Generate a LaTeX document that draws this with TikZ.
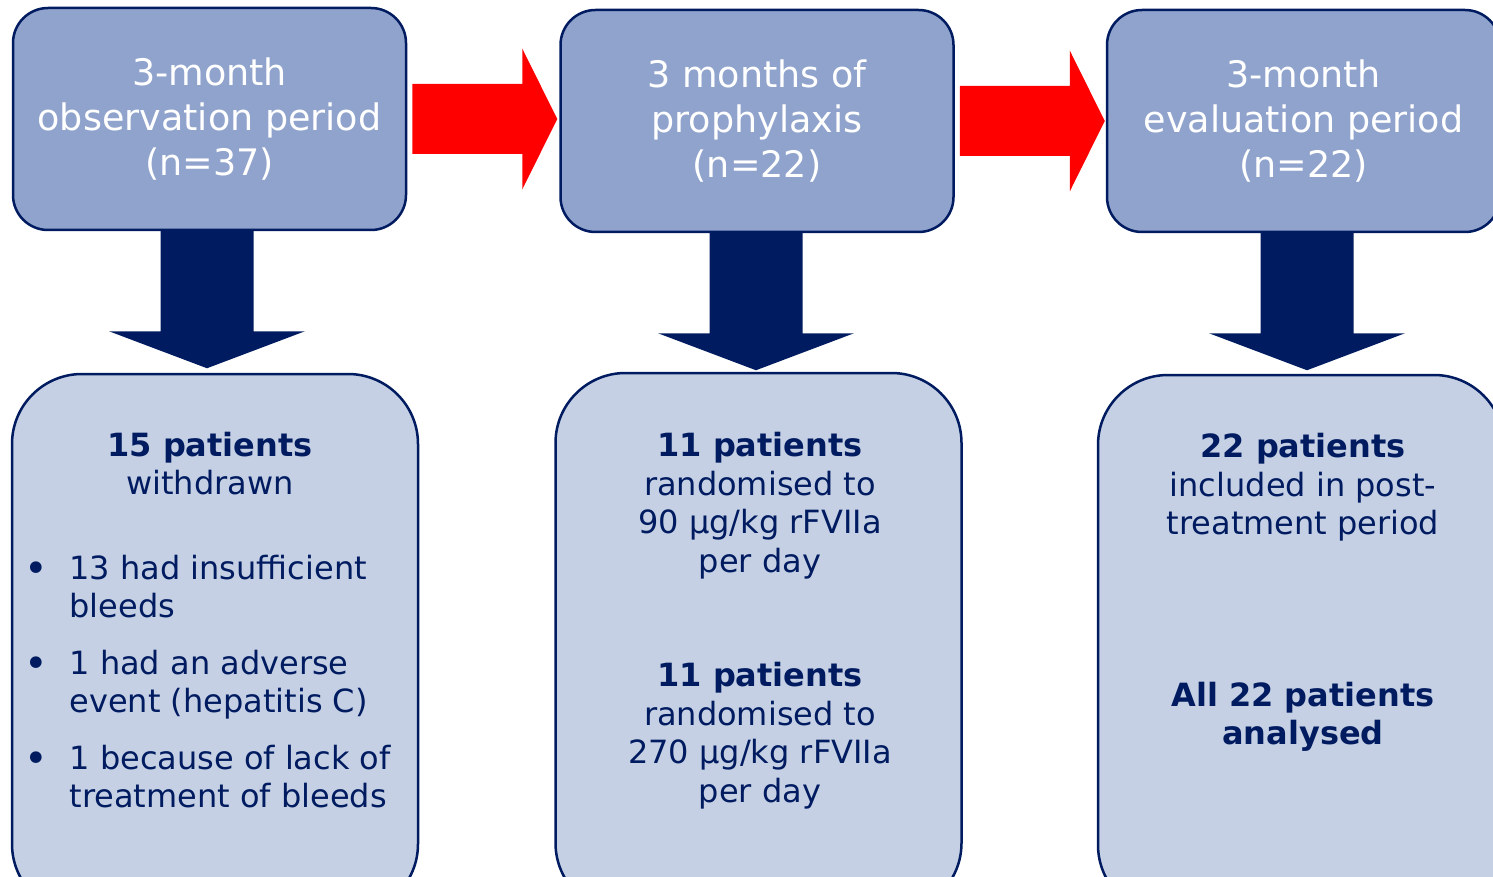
\documentclass[tikz,border=0pt]{standalone}
\usepackage{fontspec}
\setmainfont{DejaVu Sans}
\usetikzlibrary{calc}
\definecolor{stageblue}{RGB}{143,163,204}
\definecolor{resultblue}{RGB}{197,208,228}
\definecolor{navy}{RGB}{0,27,96}

\tikzset{
  stage/.style={draw=navy,line width=2.5pt,fill=stageblue,rounded corners=35pt,
    minimum width=393pt,minimum height=222pt,text=white,align=center,
    font=\fontsize{36.5}{45}\selectfont},
  result/.style={draw=navy,line width=2.5pt,fill=resultblue,rounded corners=70pt,
    minimum width=406pt,minimum height=540pt},
  info/.style={text=navy,align=center,font=\fontsize{32}{38.5}\selectfont}
}
\newcommand{\bul}{\makebox[45pt][l]{\raisebox{-3pt}{\fontsize{40}{10}\selectfont•}}}

\begin{document}
\begin{tikzpicture}[x=1pt,y=-1pt]
\useasboundingbox (0,0) rectangle (1493,877);
\clip (0,0) rectangle (1493,877);

% stages
\node [stage] (obs) at (209.5,119) {3-month\\observation period\\(n=37)};
\node [stage] (pro) at (757,121) {3 months of\\prophylaxis\\(n=22)};
\node [stage] (eva) at (1303.5,121) {3-month\\evaluation period\\(n=22)};

% results
\node [result] (obsres) at (215,644) {};
\node [result] (prores) at (758.5,643) {};
\node [result] (evares) at (1301,645) {};

% red arrows between stages
\foreach \s in {obs,pro}
  \fill [red] ($(\s.east)+(5,-35)$) -- ++(110,0) -- ++(0,-35.5) -- ++(35,70.5)
    -- ++(-35,70.5) -- ++(0,-35.5) -- ++(-110,0) -- cycle;

% down arrows to results
\foreach \s/\dx in {obs/-2.5,pro/-1,eva/3.5}
  \fill [navy] ($(\s.south)+(\dx-46.5,0)$) -- ++(93,0) -- ++(0,100) -- ++(51.5,0)
    -- ($(\s.south)+(\dx,137)$) -- ++(-98,-37) -- ++(51.5,0) -- cycle;

% texts
\node [info] (obsa) at (210,463.5) {\textbf{15 patients}\\withdrawn};
\node [info,align=left,anchor=west] (obsb) at (21,681.5)
  {\bul13 had insufficient\\\hspace*{45pt}bleeds\\[18pt]
   \bul1 had an adverse\\\hspace*{45pt}event (hepatitis C)\\[18pt]
   \bul1 because of lack of\\\hspace*{45pt}treatment of bleeds};

\node [info] (proa) at (760,505.5)
  {\textbf{11 patients}\\randomised to\\90 µg/kg rFVIIa\\per day};
\node [info] (prob) at (760,735.5)
  {\textbf{11 patients}\\randomised to\\270 µg/kg rFVIIa\\per day};

\node [info] (evaa) at (1303,487.5)
  {\textbf{22 patients}\\included in post-\\treatment period};
\node [info] (evab) at (1303,717) {\textbf{All 22 patients}\\\textbf{analysed}};
\end{tikzpicture}
\end{document}
